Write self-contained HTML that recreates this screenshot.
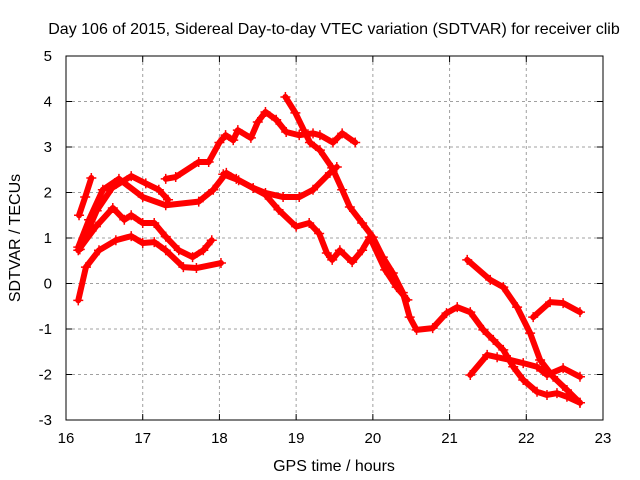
<!DOCTYPE html>
<html><head><meta charset="utf-8"><style>
body{margin:0;background:#fff}
svg{display:block;font-family:"Liberation Sans",sans-serif}
</style></head><body>
<svg id="chart" width="640" height="480">
<text x="334" y="34" text-anchor="middle" font-size="16">Day 106 of 2015, Sidereal Day-to-day VTEC variation (SDTVAR) for receiver clib</text>
<text x="334" y="471" text-anchor="middle" font-size="16">GPS time / hours</text>
<text transform="translate(20,238) rotate(-90)" text-anchor="middle" font-size="16">SDTVAR / TECUs</text>
<g id="grid"></g><g id="axes"></g><g id="series"></g>
<rect x="66" y="56" width="537" height="364" fill="none" stroke="#000" stroke-width="1"/>
</svg>
<script>
const xTicks=[16,17,18,19,20,21,22,23];
const yTicks=[5,4,3,2,1,0,-1,-2,-3];
const trackA=[[16.17,1.5],[16.25,1.9],[16.33,2.32]];
const trackP=[[16.16,0.8],[16.3,1.4],[16.48,2.06],[16.69,2.3],[17.0,1.9],[17.3,1.72],[17.73,1.8],[17.92,2.06],[18.09,2.43],[18.22,2.3],[18.44,2.1],[18.6,1.99],[18.83,1.9],[19.04,1.9],[19.22,2.06],[19.44,2.43],[19.53,2.56]];
const trackQ=[[16.18,0.75],[16.4,1.6],[16.6,2.1],[16.85,2.36],[17.04,2.2],[17.21,2.06],[17.33,1.84]];
const trackR=[[16.16,0.73],[16.39,1.25],[16.61,1.66],[16.76,1.4],[16.85,1.5],[17.0,1.33],[17.15,1.33],[17.3,1.03],[17.47,0.73],[17.65,0.58],[17.79,0.73],[17.9,0.95]];
const trackS=[[16.16,-0.37],[16.26,0.36],[16.43,0.73],[16.65,0.95],[16.85,1.04],[17.0,0.89],[17.15,0.91],[17.3,0.73],[17.53,0.36],[17.7,0.34],[18.02,0.45]];
const trackUpper=[[17.3,2.3],[17.43,2.34],[17.73,2.67],[17.86,2.67],[18.0,3.1],[18.08,3.26],[18.18,3.15],[18.24,3.37],[18.41,3.2],[18.5,3.55],[18.6,3.77],[18.74,3.6],[18.87,3.33],[19.04,3.26],[19.22,3.3],[19.31,3.26],[19.48,3.1],[19.6,3.3],[19.77,3.1]];
const trackDesc=[[18.86,4.1],[18.99,3.75],[19.1,3.37],[19.18,3.1],[19.31,2.93],[19.47,2.54],[19.6,2.06],[19.7,1.68],[19.86,1.33],[20.0,1.02],[20.13,0.58],[20.26,0.23],[20.39,-0.2],[20.48,-0.74],[20.57,-1.02],[20.78,-0.98],[20.96,-0.65],[21.1,-0.52],[21.27,-0.63],[21.44,-1.02],[21.57,-1.24],[21.7,-1.46],[21.83,-1.83],[21.96,-2.12],[22.14,-2.38],[22.27,-2.45],[22.4,-2.41],[22.53,-2.49],[22.7,-2.62]];
const trackT=[[18.05,2.4],[18.25,2.27],[18.6,1.95],[18.77,1.62],[19.0,1.25],[19.17,1.33],[19.3,1.1],[19.4,0.67],[19.47,0.52],[19.57,0.73],[19.73,0.47],[19.86,0.73],[19.96,1.02],[20.16,0.3],[20.31,-0.08],[20.45,-0.36]];
const trackU=[[21.23,0.52],[21.53,0.08],[21.7,-0.08],[21.88,-0.52],[22.05,-1.09],[22.18,-1.68],[22.35,-2.05],[22.53,-2.34],[22.7,-2.62]];
const trackV=[[21.27,-2.01],[21.49,-1.57],[21.62,-1.62],[21.79,-1.68],[21.96,-1.75],[22.14,-1.83],[22.27,-2.01],[22.48,-1.86],[22.7,-2.05]];
const trackW=[[22.09,-0.74],[22.31,-0.41],[22.48,-0.43],[22.7,-0.63]];
const tracks=[trackA,trackP,trackQ,trackR,trackS,trackUpper,trackDesc,trackT,trackU,trackV,trackW];
const NS="http://www.w3.org/2000/svg";
const X=t=>66+(t-16)*537/7, Y=v=>56+(5-v)*364/8;
function mk(tag,attrs,parent){const e=document.createElementNS(NS,tag);for(const k in attrs)e.setAttribute(k,attrs[k]);parent.appendChild(e);return e;}
const grid=document.getElementById('grid'),axes=document.getElementById('axes'),ser=document.getElementById('series');
xTicks.forEach(t=>{
 if(t>16&&t<23){const g=mk('line',{x1:X(t),x2:X(t),y1:56,y2:420,stroke:'#a0a0a0','stroke-dasharray':'3,3'},grid);
 
 }
 mk('line',{x1:X(t),x2:X(t),y1:420,y2:414,stroke:'#000'},axes);
 mk('line',{x1:X(t),x2:X(t),y1:56,y2:62,stroke:'#000'},axes);
 const l=mk('text',{x:X(t),y:443,'text-anchor':'middle','font-size':15},axes);l.textContent=t;
 
 
});
yTicks.forEach(v=>{
 if(v<5&&v>-3){const g=mk('line',{x1:66,x2:603,y1:Y(v),y2:Y(v),stroke:'#a0a0a0','stroke-dasharray':'3,3'},grid);
 
 }
 mk('line',{x1:66,x2:72,y1:Y(v),y2:Y(v),stroke:'#000'},axes);
 mk('line',{x1:603,x2:597,y1:Y(v),y2:Y(v),stroke:'#000'},axes);
 const l=mk('text',{x:52,y:Y(v)+5,'text-anchor':'end','font-size':15},axes);l.textContent=v;
 
 
});
tracks.forEach((tr,i)=>{
 const pl=mk('polyline',{points:tr.map(p=>X(p[0])+','+Y(p[1])).join(' '),fill:'none',stroke:'#ff0000','stroke-width':6,'stroke-linejoin':'round','stroke-linecap':'round'},ser);
 
 
 tr.forEach(p=>{const x=X(p[0]),y=Y(p[1]);
  const m=mk('path',{d:`M${x-5},${y}H${x+5}M${x},${y-5}V${y+5}`,stroke:'#ff0000','stroke-width':1.5},ser);
  
  
 });
});
</script>
</body></html>
